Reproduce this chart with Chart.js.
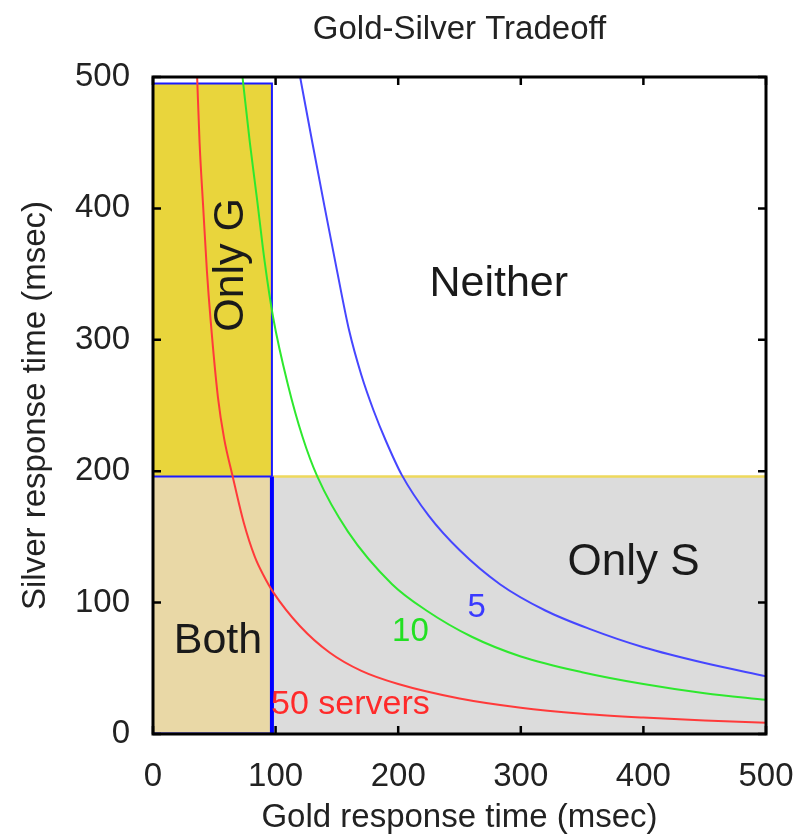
<!DOCTYPE html>
<html>
<head>
    <title>Gold-Silver Tradeoff</title>
    <script src="https://cdn.jsdelivr.net/npm/chart.js"></script>
    <style>
        body {
            margin: 0;
            background: #fff;
        }
        .chart-container {
            width: 810px;
            height: 838px;
        }
    </style>
</head>
<body>
    <div class="chart-container">
        <canvas id="tradeoffChart" width="810" height="838"></canvas>
    </div>
    <script>
        // axis ticks
        const axisTicks = [0, 100, 200, 300, 400, 500];

        // region boundaries (msec)
        const goldLimit = 97;
        const silverLimit = 196;
        const regionTop = 495;
        const axisMax = 500;

        // curves: gold (x) / silver (y), msec
        const gold50 = [36, 38, 41, 44, 47, 53, 58, 65, 74, 83, 90, 98, 120, 144, 170, 200, 250, 300, 350, 400, 450, 500];
        const silver50 = [500, 450, 400, 352, 315, 256, 225, 196, 161, 135, 121, 108, 82, 62, 48, 38, 27, 20, 15.5, 12.5, 10.2, 8.5];

        const gold10 = [73, 79, 85, 91, 98, 110, 122, 134, 159, 195, 223, 260, 300, 350, 400, 450, 500];
        const silver10 = [500, 450, 406, 360, 317, 266, 226, 196, 154, 114, 94, 74, 59, 47, 38, 31, 26];

        const gold5 = [120, 130, 140, 150, 160, 170, 180, 190, 203, 225, 250, 283, 320, 356, 400, 450, 500];
        const silver5 = [500, 450, 401, 353, 307, 273, 246, 223, 197, 166, 140, 114, 94, 80, 66, 54, 44];

        // text inside the plot, anchored in data units
        const plotLabels = [
            { text: 'Only G', gold: 64, silver: 357, color: '#1a1a1a', size: 43, rotate: true },
            { text: 'Neither', gold: 282, silver: 342, color: '#1a1a1a', size: 43 },
            { text: 'Only S', gold: 392, silver: 130, color: '#1a1a1a', size: 44 },
            { text: 'Both', gold: 53, silver: 71, color: '#1a1a1a', size: 43 },
            { text: '5', gold: 264, silver: 96, color: '#3a3aff', size: 33 },
            { text: '10', gold: 210, silver: 78, color: '#22e022', size: 33 },
            { text: '50 servers', gold: 161, silver: 22, color: '#ff2a2a', size: 34 }
        ];

        const FONT = "'Liberation Sans', Arial, sans-serif";

        function toPoints(xs, ys) {
            return xs.map((x, i) => ({ x: x, y: ys[i] }));
        }

        function curve(xs, ys, color) {
            return {
                data: toPoints(xs, ys),
                showLine: true,
                borderColor: color,
                borderWidth: 2,
                pointRadius: 0,
                cubicInterpolationMode: 'monotone',
                fill: false,
                order: 1
            };
        }

        function segment(points, color, width) {
            return {
                data: points,
                showLine: true,
                borderColor: color,
                borderWidth: width,
                pointRadius: 0,
                tension: 0,
                fill: false,
                order: 2
            };
        }

        // frame, inward ticks and region/curve labels
        const decorPlugin = {
            id: 'decor',
            afterDatasetsDraw(chart) {
                const ctx = chart.ctx;
                const area = chart.chartArea;
                const xs = chart.scales.x;
                const ys = chart.scales.y;

                ctx.save();
                plotLabels.forEach(l => {
                    const px = xs.getPixelForValue(l.gold);
                    const py = ys.getPixelForValue(l.silver);
                    ctx.font = l.size + 'px ' + FONT;
                    ctx.fillStyle = l.color;
                    ctx.textAlign = 'center';
                    ctx.textBaseline = 'middle';
                    ctx.translate(px, py);
                    if (l.rotate) ctx.rotate(-Math.PI / 2);
                    ctx.fillText(l.text, 0, 0);
                    ctx.setTransform(1, 0, 0, 1, 0, 0);
                });

                ctx.strokeStyle = '#000';
                ctx.lineWidth = 2.5;
                const tl = 8;
                axisTicks.forEach(v => {
                    const px = xs.getPixelForValue(v);
                    const py = ys.getPixelForValue(v);
                    ctx.beginPath();
                    ctx.moveTo(px, area.bottom);
                    ctx.lineTo(px, area.bottom - tl);
                    ctx.moveTo(px, area.top);
                    ctx.lineTo(px, area.top + tl);
                    ctx.moveTo(area.left, py);
                    ctx.lineTo(area.left + tl, py);
                    ctx.moveTo(area.right, py);
                    ctx.lineTo(area.right - tl, py);
                    ctx.stroke();
                });

                ctx.lineWidth = 3;
                ctx.strokeRect(area.left, area.top, area.right - area.left, area.bottom - area.top);
                ctx.restore();
            }
        };

        const ctx = document.getElementById('tradeoffChart').getContext('2d');

        new Chart(ctx, {
            type: 'scatter',
            data: {
                datasets: [
                    curve(gold50, silver50, '#ff3a3a'),
                    curve(gold10, silver10, '#2ee82e'),
                    curve(gold5, silver5, '#4646ff'),
                    // blue outline of the gold-ok box
                    segment([{ x: 0, y: regionTop }, { x: goldLimit, y: regionTop }, { x: goldLimit, y: silverLimit }], '#1a1aff', 2),
                    segment([{ x: 0, y: silverLimit }, { x: goldLimit, y: silverLimit }], '#1a1aff', 2),
                    segment([{ x: goldLimit, y: silverLimit }, { x: goldLimit, y: 0 }], '#0000ff', 4),
                    segment([{ x: 0, y: 0 }, { x: goldLimit, y: 0 }], '#1a1aff', 3),
                    // Only S
                    {
                        data: [{ x: goldLimit, y: silverLimit }, { x: axisMax, y: silverLimit }],
                        showLine: true,
                        borderColor: '#eed95c',
                        borderWidth: 2.5,
                        pointRadius: 0,
                        backgroundColor: '#dcdcdc',
                        fill: 'origin',
                        order: 3
                    },
                    // Only G
                    {
                        data: [{ x: 0, y: regionTop }, { x: goldLimit, y: regionTop }],
                        showLine: true,
                        borderWidth: 0,
                        pointRadius: 0,
                        backgroundColor: '#e9d53c',
                        fill: { value: silverLimit },
                        order: 4
                    },
                    // Both
                    {
                        data: [{ x: 0, y: silverLimit }, { x: goldLimit, y: silverLimit }],
                        showLine: true,
                        borderWidth: 0,
                        pointRadius: 0,
                        backgroundColor: '#e9d8a6',
                        fill: 'origin',
                        order: 5
                    }
                ]
            },
            options: {
                responsive: false,
                animation: false,
                layout: {
                    padding: { left: 0, right: 44, top: 0, bottom: 0 }
                },
                scales: {
                    x: {
                        type: 'linear',
                        min: 0,
                        max: axisMax,
                        afterBuildTicks: axis => {
                            axis.ticks = axisTicks.map(v => ({ value: v }));
                        },
                        afterFit: axis => {
                            axis.height = 104;
                        },
                        grid: { display: false },
                        border: { display: false },
                        ticks: {
                            padding: 15,
                            color: '#222',
                            maxRotation: 0,
                            font: { family: FONT, size: 33 }
                        },
                        title: {
                            display: true,
                            text: 'Gold response time (msec)',
                            color: '#222',
                            padding: { top: 4, bottom: 0 },
                            font: { family: FONT, size: 33 }
                        }
                    },
                    // top axis only carries the chart title, centred over the plot
                    top: {
                        type: 'linear',
                        position: 'top',
                        min: 0,
                        max: axisMax,
                        afterFit: axis => {
                            axis.height = 77;
                        },
                        grid: { display: false },
                        border: { display: false },
                        ticks: { display: false },
                        title: {
                            display: true,
                            text: 'Gold-Silver Tradeoff',
                            color: '#222',
                            padding: { top: 10, bottom: 0 },
                            font: { family: FONT, size: 33 }
                        }
                    },
                    y: {
                        type: 'linear',
                        min: 0,
                        max: axisMax,
                        afterBuildTicks: axis => {
                            axis.ticks = axisTicks.map(v => ({ value: v }));
                        },
                        afterFit: axis => {
                            axis.width = 153;
                        },
                        grid: { display: false },
                        border: { display: false },
                        ticks: {
                            padding: 15,
                            color: '#222',
                            font: { family: FONT, size: 33 }
                        },
                        title: {
                            display: true,
                            text: 'Silver response time (msec)',
                            color: '#222',
                            padding: { top: 16, bottom: 0 },
                            font: { family: FONT, size: 33 }
                        }
                    }
                },
                plugins: {
                    legend: { display: false },
                    tooltip: { enabled: false },
                    title: { display: false }
                }
            },
            plugins: [decorPlugin]
        });
    </script>
</body>
</html>
